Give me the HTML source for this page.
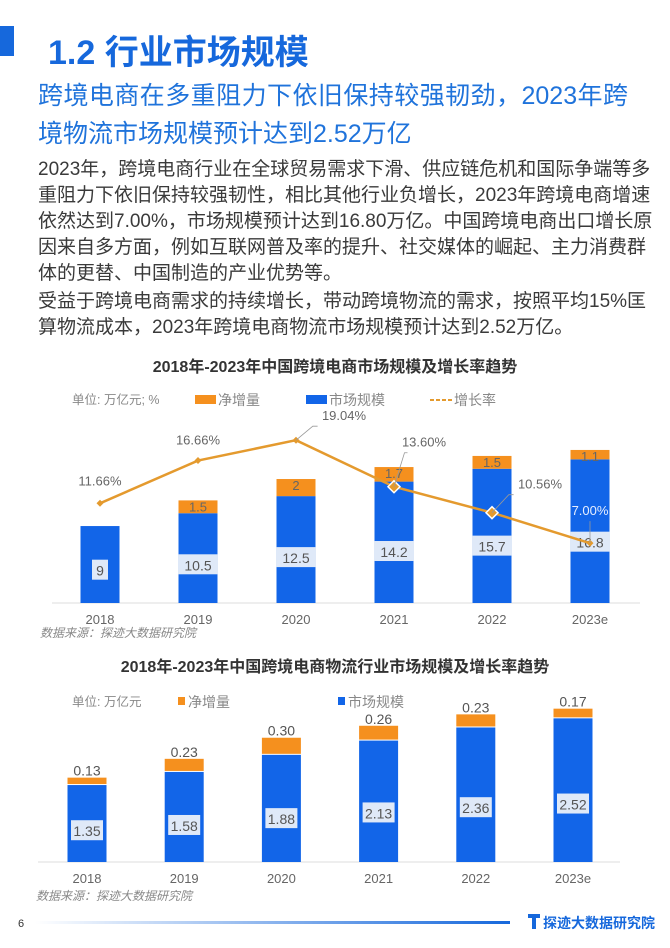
<!DOCTYPE html>
<html><head><meta charset="utf-8">
<style>
body{margin:0;background:#fff;width:670px;height:948px;overflow:hidden;position:relative;font-family:"Liberation Sans","Noto Sans CJK SC",sans-serif;}
.abs{position:absolute;}
#title{left:48px;top:25px;font-size:34px;font-weight:bold;color:#1668dc;white-space:nowrap;}
.sub{left:38px;font-size:25px;color:#1f73db;white-space:nowrap;}
.subj{width:590px;text-align:justify;text-align-last:justify;}
.body{left:38px;width:590px;font-size:19px;color:#3a3a3a;height:26px;line-height:26px;text-align:justify;text-align-last:justify;white-space:nowrap;}
.bodyl{text-align-last:left;}
svg text{font-family:"Liberation Sans","Noto Sans CJK SC",sans-serif;}
</style></head><body>
<div class="abs" style="left:0;top:26px;width:14px;height:30px;background:#1668dc"></div>
<div class="abs" id="title">1.2 行业市场规模</div>
<div class="abs sub subj" style="top:76px">跨境电商在多重阻力下依旧保持较强韧劲，2023年跨</div>
<div class="abs sub" style="top:114px">境物流市场规模预计达到2.52万亿</div>
<div class="abs body" style="top:157px">2023年，跨境电商行业在全球贸易需求下滑、供应链危机和国际争端等多</div>
<div class="abs body" style="top:183px">重阻力下依旧保持较强韧性，相比其他行业负增长，2023年跨境电商增速</div>
<div class="abs body" style="top:209px">依然达到7.00%，市场规模预计达到16.80万亿。中国跨境电商出口增长原</div>
<div class="abs body" style="top:235px">因来自多方面，例如互联网普及率的提升、社交媒体的崛起、主力消费群</div>
<div class="abs body bodyl" style="top:261px">体的更替、中国制造的产业优势等。</div>
<div class="abs body" style="top:289px">受益于跨境电商需求的持续增长，带动跨境物流的需求，按照平均15%匡</div>
<div class="abs body bodyl" style="top:315px">算物流成本，2023年跨境电商物流市场规模预计达到2.52万亿。</div>

<svg class="abs" style="left:0;top:0" width="670" height="948" id="svg">
<text x="335" y="372" text-anchor="middle" font-size="16" font-weight="bold" fill="#333">2018年-2023年中国跨境电商市场规模及增长率趋势</text>
<g font-size="12.5" fill="#888">
<text x="72" y="404">单位: 万亿元; %</text>
<rect x="195" y="395" width="21" height="9" fill="#f5901e"/><text x="218" y="405" font-size="14">净增量</text>
<rect x="306" y="395" width="21" height="9" fill="#1265e8"/><text x="329" y="405" font-size="14">市场规模</text>
<line x1="430" y1="400" x2="452" y2="400" stroke="#e49a2e" stroke-width="2" stroke-dasharray="4,2"/><text x="454" y="405" font-size="14">增长率</text>
</g>
<line x1="52" y1="603" x2="640" y2="603" stroke="#ddd"/>
<g id="c1"></g>
<text x="40" y="637" font-size="12" font-style="italic" fill="#888">数据来源：探迹大数据研究院</text>

<text x="335" y="672" text-anchor="middle" font-size="16" font-weight="bold" fill="#333">2018年-2023年中国跨境电商物流行业市场规模及增长率趋势</text>
<g font-size="12.5" fill="#888">
<text x="72" y="706">单位: 万亿元</text>
<rect x="178" y="697" width="7" height="8" fill="#f5901e"/><text x="188" y="707" font-size="14">净增量</text>
<rect x="338" y="697" width="7" height="8" fill="#1265e8"/><text x="348" y="707" font-size="14">市场规模</text>
</g>
<line x1="38" y1="862" x2="620" y2="862" stroke="#ddd"/>
<g id="c2"></g>
<text x="36" y="900" font-size="12" font-style="italic" fill="#888">数据来源：探迹大数据研究院</text>

<text x="18" y="927" font-size="11" fill="#333">6</text>
<defs><linearGradient id="fg" x1="0" x2="1"><stop offset="0" stop-color="#fff"/><stop offset="1" stop-color="#1668dc"/></linearGradient></defs>
<rect x="35" y="921" width="475" height="3" fill="url(#fg)"/>
<g>
<rect x="528" y="914" width="12" height="4" fill="#1668dc"/><rect x="532" y="914" width="4" height="15" fill="#1668dc"/>
<text x="543" y="928" font-size="14" font-weight="bold" fill="#1668dc">探迹大数据研究院</text></g>
</svg>
<script>
const c1Cats = ['2018','2019','2020','2021','2022','2023e'];
const c1Market = [9,10.5,12.5,14.2,15.7,16.8];
const c1Inc = [null,1.5,2,1.7,1.5,1.1];
const c1Growth = [11.66,16.66,19.04,13.60,10.56,7.00];
const c1GrowthLabels = ['11.66%','16.66%','19.04%','13.60%','10.56%','7.00%'];
const c2Cats = ['2018','2019','2020','2021','2022','2023e'];
const c2Market = [1.35,1.58,1.88,2.13,2.36,2.52];
const c2Inc = [0.13,0.23,0.30,0.26,0.23,0.17];
const c2IncLabels = ['0.13','0.23','0.30','0.26','0.23','0.17'];

const NS='http://www.w3.org/2000/svg';
function mk(p,tag,a,txt){const e=document.createElementNS(NS,tag);for(const k in a)e.setAttribute(k,a[k]);if(txt!==undefined)e.textContent=txt;p.appendChild(e);return e;}
const BLUE='#1265e8',ORANGE='#f5901e';

// chart 1
const g1=document.getElementById('c1');
const x1=i=>100+i*98, y1=v=>603-v*8.55, bw=39;
c1Cats.forEach((c,i)=>{
  const cx=x1(i);
  let r=mk(g1,'rect',{x:cx-bw/2,y:y1(c1Market[i]),width:bw,height:603-y1(c1Market[i]),fill:BLUE});
  
  
  if(c1Inc[i]!=null){
    const top=y1(c1Market[i]+c1Inc[i]);
    let o=mk(g1,'rect',{x:cx-bw/2,y:top,width:bw,height:y1(c1Market[i])-top,fill:ORANGE});
    
    
    let t=mk(g1,'text',{x:cx,y:top+11,'text-anchor':'middle','font-size':13,fill:'#666'},String(c1Inc[i]));
    
    
  }
  const ly=y1(c1Market[i]*0.42);
  const s=String(c1Market[i]);const w=s.length*8+8;
  mk(g1,'rect',{x:cx-w/2,y:ly-11,width:w,height:20,fill:'#dfe9f8'});
  let vt=mk(g1,'text',{x:cx,y:ly+5,'text-anchor':'middle','font-size':14,fill:'#555'},s);
  
  
  let xt=mk(g1,'text',{x:cx,y:624,'text-anchor':'middle','font-size':13,fill:'#666'},c);
  
  
});
const pts=c1Growth.map((v,i)=>x1(i)+','+y1(v)).join(' ');
let pl=mk(g1,'polyline',{points:pts,fill:'none',stroke:'#e49a2e','stroke-width':2.5});


const lOff=[[0,-18,0],[0,-16,0],[48,-20,1],[30,-40,1],[48,-24,1],[0,-28,1]];
c1Growth.forEach((v,i)=>{
  const cx=x1(i),cy=y1(v);
  const big=(i>=3&&i<=4);const d=big?6:3.5;
  let m=mk(g1,'polygon',{points:`${cx},${cy-d} ${cx+d},${cy} ${cx},${cy+d} ${cx-d},${cy}`,fill:'#e49a2e',stroke:big?'#fff':'none','stroke-width':1.5});
  
  
  const [dx,dy,lead]=lOff[i];
  if(lead) mk(g1,'polyline',{points:`${cx},${cy} ${cx+dx*0.35},${cy+dy+6} ${cx+dx*0.45},${cy+dy+6}`,fill:'none',stroke:'#999','stroke-width':0.8});
  let t=mk(g1,'text',{x:cx+dx,y:cy+dy,'text-anchor':'middle','font-size':13,fill:i===5?'#e6eeff':'#666'},c1GrowthLabels[i]);
  
  
});

// chart 2
const g2=document.getElementById('c2');
const x2=i=>87+i*97.2, y2=v=>862-v*57;
c2Cats.forEach((c,i)=>{
  const cx=x2(i);
  let r=mk(g2,'rect',{x:cx-bw/2,y:y2(c2Market[i]),width:bw,height:862-y2(c2Market[i]),fill:BLUE});
  
  
  const top=y2(c2Market[i]+c2Inc[i]);
  let o=mk(g2,'rect',{x:cx-bw/2,y:top,width:bw,height:y2(c2Market[i])-top-1,fill:ORANGE});
  
  
  let t=mk(g2,'text',{x:cx,y:top-2,'text-anchor':'middle','font-size':14,fill:'#555'},c2IncLabels[i]);
  
  
  const ly=y2(c2Market[i]*0.4);
  const s=c2Market[i].toFixed(2);
  mk(g2,'rect',{x:cx-16,y:ly-11,width:32,height:20,fill:'#dfe9f8'});
  let vt=mk(g2,'text',{x:cx,y:ly+5,'text-anchor':'middle','font-size':14,fill:'#555'},s);
  
  
  let xt=mk(g2,'text',{x:cx,y:883,'text-anchor':'middle','font-size':13,fill:'#666'},c);
  
  
});
</script>
</body></html>
